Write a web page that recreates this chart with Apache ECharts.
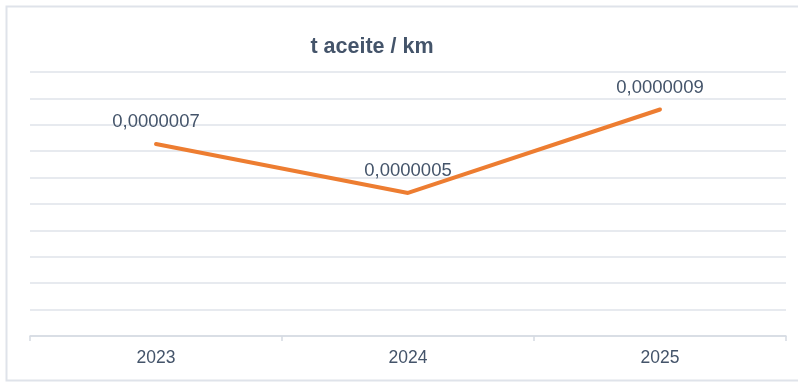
<!DOCTYPE html>
<html>
<head>
<meta charset="utf-8">
<script src="https://cdn.jsdelivr.net/npm/echarts@6/dist/echarts.min.js"></script>
<style>
html,body{margin:0;padding:0;background:#fff;}
#c{width:798px;height:382px;}
</style>
</head>
<body>
<div id="c"></div>
<script>
const categories = ['2023', '2024', '2025'];
const values = [0.000000727, 0.000000542, 0.000000858];
const titleText = 't aceite / km';

const chart = echarts.init(document.getElementById('c'), null, {renderer: 'canvas'});
const textColor = '#44546A';
chart.setOption({
  animation: false,
  backgroundColor: '#ffffff',
  title: {
    text: titleText,
    left: 367, top: 31, textAlign: 'center',
    textStyle: {fontFamily: 'Liberation Sans, Arial', fontWeight: 'bold', fontSize: 21.5, color: textColor}
  },
  graphic: [{
    type: 'rect', shape: {x: 6.5, y: 6.5, width: 810, height: 374},
    style: {fill: 'none', stroke: '#dfe3ea', lineWidth: 2}, silent: true, z: -1
  }],
  grid: {left: 30, right: 12, top: 72, bottom: 46},
  xAxis: {
    type: 'category', data: categories, boundaryGap: true,
    axisLine: {lineStyle: {color: '#d5dae2', width: 1.5}},
    axisTick: {show: true, length: 5, lineStyle: {color: '#d5dae2', width: 1.5}},
    axisLabel: {color: textColor, fontFamily: 'Liberation Sans, Arial', fontSize: 17.5, margin: 13}
  },
  yAxis: {
    type: 'value', min: 0, max: 0.000001, interval: 0.0000001,
    axisLabel: {show: false}, axisLine: {show: false}, axisTick: {show: false},
    splitLine: {lineStyle: {color: '#dfe3ea', width: 1.5}}
  },
  series: [{
    type: 'line', data: values,
    symbol: 'circle', symbolSize: 1, showSymbol: true,
    itemStyle: {color: 'rgba(0,0,0,0)', borderWidth: 0},
    lineStyle: {color: '#ED7D31', width: 4, cap: 'round'},
    label: {
      show: true, position: 'top', distance: 12,
      color: textColor, fontFamily: 'Liberation Sans, Arial', fontSize: 18.5,
      formatter: p => p.value.toFixed(7).replace('.', ',')
    }
  }]
});
</script>
</body>
</html>
